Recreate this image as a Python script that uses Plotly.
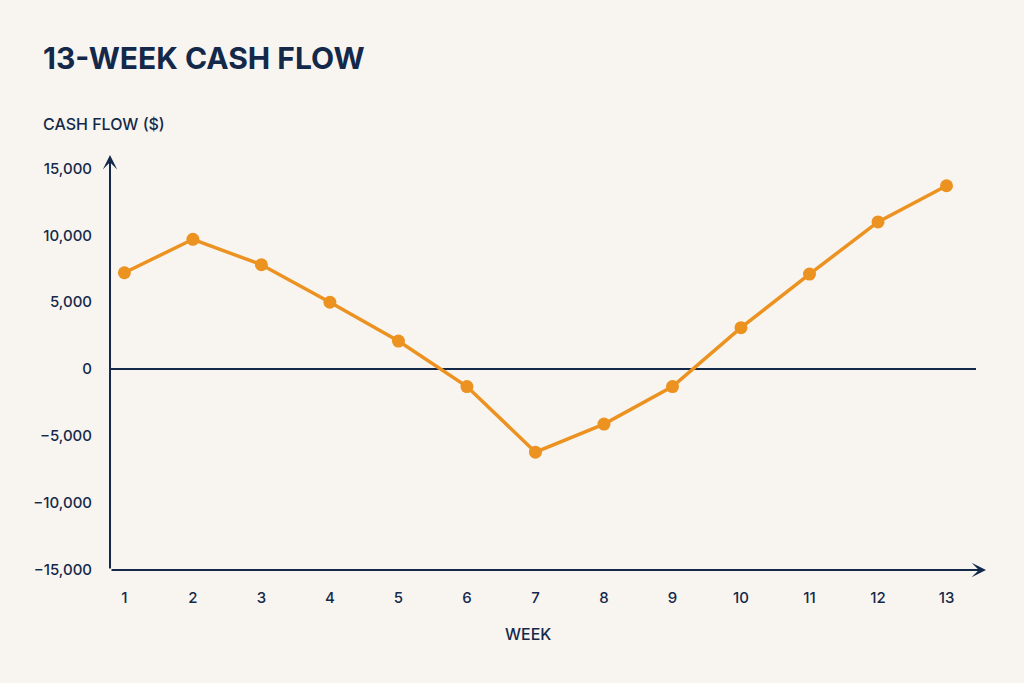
import plotly.graph_objects as go

weeks = [1, 2, 3, 4, 5, 6, 7, 8, 9, 10, 11, 12, 13]
cash_flow = [7200, 9700, 7800, 5000, 2100, -1300, -6200, -4100, -1300, 3100, 7100, 11000, 13700]
y_ticks = [-15000, -10000, -5000, 0, 5000, 10000, 15000]

NAVY = "#14294A"
ORANGE = "#EC9220"
BG = "#F8F5F1"
FONT = "Inter"

fig = go.Figure()
fig.add_trace(go.Scatter(
    x=weeks, y=cash_flow, mode="lines+markers",
    line=dict(color=ORANGE, width=3.5),
    marker=dict(color=ORANGE, size=13),
    hoverinfo="skip", showlegend=False,
))

W, H = 1024, 683
L, R, T, B = 110, 48, 167, 113
pw, ph = W - L - R, H - T - B

def px(x):
    return (x - L) / pw

def py(y):
    return (H - B - y) / ph

tickfont = dict(size=15, family=FONT, color=NAVY, weight=500)

fig.update_layout(
    width=W, height=H,
    margin=dict(l=L, r=R, t=T, b=B),
    paper_bgcolor=BG, plot_bgcolor=BG,
    font=dict(family=FONT, color=NAVY),
    xaxis=dict(
        range=[0.79, 13.43], tickmode="array", tickvals=weeks,
        ticktext=[str(w) for w in weeks],
        showgrid=False, zeroline=False, showline=False,
        ticks="outside", ticklen=14, tickcolor="rgba(0,0,0,0)",
        tickfont=tickfont,
    ),
    yaxis=dict(
        range=[-15000, 15100], tickmode="array", tickvals=y_ticks,
        tickformat=",d",
        showgrid=False, showline=False,
        zeroline=True, zerolinecolor=NAVY, zerolinewidth=2,
        ticks="outside", ticklen=14, tickcolor="rgba(0,0,0,0)",
        tickfont=tickfont,
    ),
    annotations=[
        dict(text="<b>13-WEEK CASH FLOW</b>", xref="paper", yref="paper",
             x=px(41), y=py(58), xanchor="left", yanchor="middle",
             showarrow=False, font=dict(size=30, family=FONT, color=NAVY)),
        dict(text="CASH FLOW ($)", xref="paper", yref="paper",
             x=px(41), y=py(124), xanchor="left", yanchor="middle",
             showarrow=False, font=dict(size=16, family=FONT, color=NAVY, weight=500)),
        dict(text="WEEK", xref="paper", yref="paper",
             x=px(528), y=py(634), xanchor="center", yanchor="middle",
             showarrow=False, font=dict(size=16, family=FONT, color=NAVY, weight=500)),
        # y-axis arrow
        dict(text="", xref="paper", yref="paper", x=0, y=py(155),
             ax=0, ay=415, showarrow=True, arrowhead=3, arrowsize=1.2,
             arrowwidth=2, arrowcolor=NAVY, standoff=0),
        # x-axis arrow
        dict(text="", xref="paper", yref="paper", x=px(986), y=0,
             ax=-876, ay=0, showarrow=True, arrowhead=3, arrowsize=1.2,
             arrowwidth=2, arrowcolor=NAVY, standoff=0),
    ],
)

fig.write_html("out.html")
